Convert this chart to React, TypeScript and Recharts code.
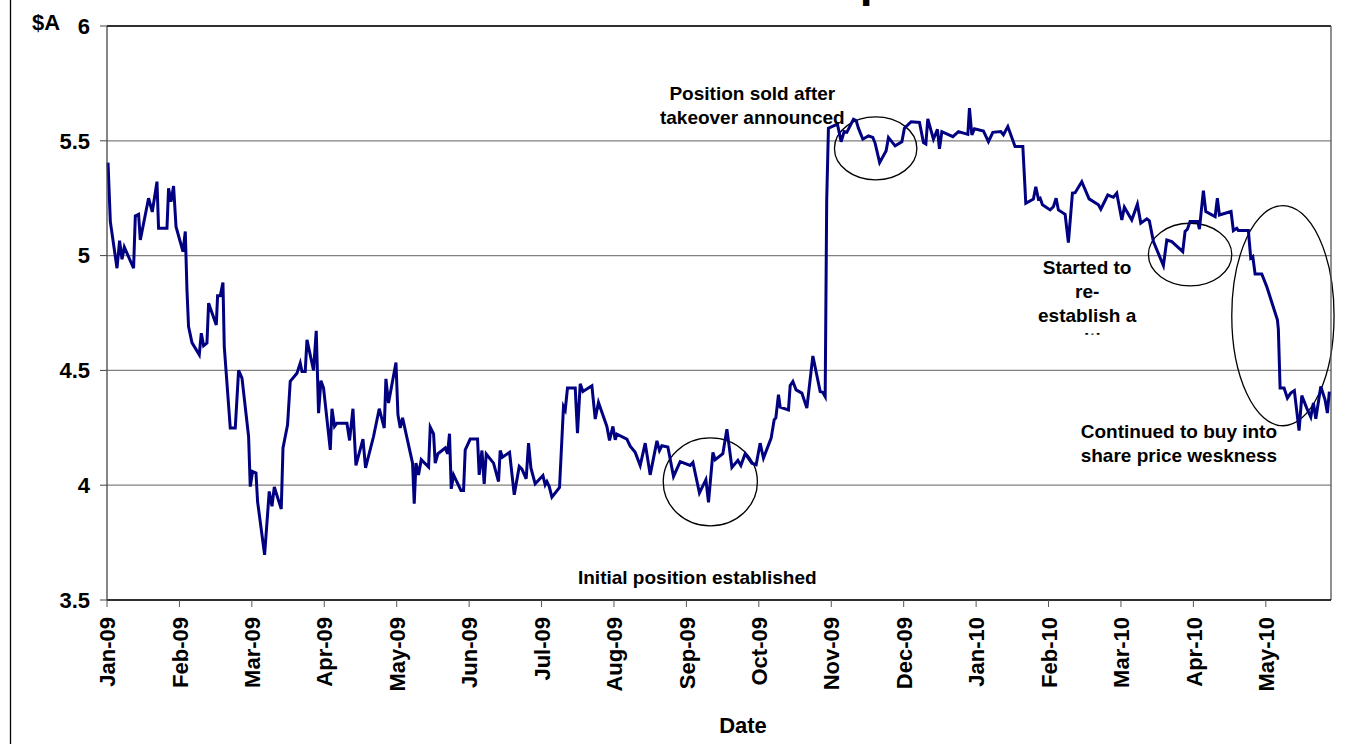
import {
  LineChart,
  Line,
  XAxis,
  YAxis,
  CartesianGrid,
  ReferenceLine,
  ReferenceArea,
  ReferenceDot
} from "recharts"

const FONT = "'Liberation Sans', Arial, Helvetica, sans-serif"

const monthLabels = [
  "Jan-09", "Feb-09", "Mar-09", "Apr-09", "May-09", "Jun-09", "Jul-09", "Aug-09",
  "Sep-09", "Oct-09", "Nov-09", "Dec-09", "Jan-10", "Feb-10", "Mar-10", "Apr-10", "May-10"
]
const monthTicks = monthLabels.map((_, i) => i)
const lastMonth = 16.9

const priceTicks = [3.5, 4, 4.5, 5, 5.5, 6]

// time in months since 1 Jan 09
const monthIdx = [
  0.014, 0.046, 0.138, 0.174, 0.207, 0.239, 0.367, 0.391, 0.436, 0.46, 0.574, 0.625, 0.69, 0.712,
  0.828, 0.85, 0.883, 0.919, 0.953, 1.049, 1.081, 1.104, 1.126, 1.173, 1.274, 1.302, 1.334, 1.38,
  1.403, 1.509, 1.527, 1.564, 1.601, 1.619, 1.702, 1.771, 1.817, 1.864, 1.955, 1.978, 2.01, 2.057,
  2.079, 2.176, 2.24, 2.278, 2.31, 2.406, 2.43, 2.493, 2.53, 2.623, 2.668, 2.692, 2.737, 2.761,
  2.852, 2.889, 2.921, 2.954, 2.99, 3.083, 3.106, 3.142, 3.175, 3.313, 3.349, 3.396, 3.437, 3.534,
  3.57, 3.68, 3.759, 3.828, 3.851, 3.887, 3.99, 4.017, 4.049, 4.081, 4.219, 4.242, 4.266, 4.301,
  4.339, 4.44, 4.463, 4.509, 4.532, 4.569, 4.67, 4.702, 4.729, 4.753, 4.785, 4.887, 4.923, 4.946,
  5.015, 5.116, 5.139, 5.177, 5.208, 5.236, 5.337, 5.406, 5.429, 5.461, 5.558, 5.623, 5.692, 5.729,
  5.788, 5.82, 5.853, 5.912, 6.019, 6.05, 6.074, 6.106, 6.143, 6.248, 6.303, 6.327, 6.358, 6.465,
  6.496, 6.534, 6.571, 6.695, 6.741, 6.786, 6.902, 6.938, 6.985, 7.017, 7.04, 7.178, 7.224, 7.293,
  7.362, 7.431, 7.5, 7.593, 7.628, 7.661, 7.744, 7.822, 7.914, 8.052, 8.09, 8.18, 8.269, 8.305,
  8.366, 8.397, 8.503, 8.559, 8.628, 8.711, 8.752, 8.811, 8.904, 8.963, 9.018, 9.064, 9.17, 9.212,
  9.235, 9.271, 9.295, 9.409, 9.433, 9.47, 9.515, 9.594, 9.663, 9.746, 9.847, 9.884, 9.916, 9.937,
  9.961, 10.085, 10.136, 10.178, 10.215, 10.306, 10.344, 10.375, 10.436, 10.513, 10.574, 10.606,
  10.668, 10.758, 10.79, 10.882, 10.975, 11.01, 11.103, 11.218, 11.273, 11.306, 11.333, 11.411,
  11.466, 11.494, 11.527, 11.679, 11.756, 11.886, 11.908, 11.941, 11.977, 12.101, 12.17, 12.231,
  12.341, 12.377, 12.438, 12.538, 12.645, 12.686, 12.791, 12.824, 12.86, 12.884, 12.916, 13.022,
  13.067, 13.105, 13.136, 13.229, 13.274, 13.33, 13.367, 13.459, 13.56, 13.689, 13.722, 13.818,
  13.896, 13.942, 14.012, 14.047, 14.149, 14.227, 14.274, 14.357, 14.392, 14.448, 14.586, 14.633,
  14.702, 14.853, 14.885, 14.917, 14.954, 15.061, 15.083, 15.138, 15.171, 15.3, 15.331, 15.359,
  15.52, 15.552, 15.599, 15.621, 15.759, 15.792, 15.82, 15.852, 15.944, 16.013, 16.16, 16.173,
  16.197, 16.252, 16.298, 16.344, 16.394, 16.459, 16.497, 16.565, 16.621, 16.657, 16.69, 16.759,
  16.818, 16.85, 16.877
]

// share price, $A
const sharePrice = [
  5.405, 5.148, 4.945, 5.065, 4.984, 5.037, 4.945, 5.173, 5.18, 5.068, 5.25, 5.19, 5.322, 5.119,
  5.119, 5.293, 5.235, 5.303, 5.126, 5.017, 5.105, 4.851, 4.691, 4.621, 4.568, 4.662, 4.607, 4.619,
  4.793, 4.698, 4.825, 4.825, 4.883, 4.604, 4.249, 4.249, 4.5, 4.466, 4.212, 3.994, 4.06, 4.053,
  3.929, 3.697, 3.973, 3.908, 3.992, 3.896, 4.162, 4.263, 4.452, 4.488, 4.532, 4.495, 4.495, 4.633,
  4.5, 4.672, 4.314, 4.455, 4.423, 4.154, 4.333, 4.256, 4.27, 4.27, 4.195, 4.333, 4.086, 4.201,
  4.075, 4.212, 4.333, 4.249, 4.463, 4.358, 4.534, 4.307, 4.249, 4.293, 4.096, 3.919, 4.096, 4.045,
  4.111, 4.079, 4.253, 4.224, 4.096, 4.137, 4.162, 4.137, 4.224, 3.984, 4.045, 3.977, 3.977, 4.154,
  4.201, 4.201, 4.045, 4.151, 4.006, 4.136, 4.096, 4.016, 4.151, 4.122, 4.143, 3.958, 4.082, 4.07,
  4.028, 4.183, 4.075, 4.006, 4.042, 4.002, 4.016, 3.994, 3.948, 3.99, 4.343, 4.328, 4.423, 4.423,
  4.227, 4.442, 4.408, 4.433, 4.288, 4.36, 4.256, 4.195, 4.256, 4.198, 4.222, 4.201, 4.17, 4.143,
  4.086, 4.183, 4.045, 4.193, 4.151, 4.172, 4.166, 4.038, 4.103, 4.086, 4.099, 3.966, 4.024, 3.925,
  4.143, 4.111, 4.137, 4.244, 4.077, 4.108, 4.086, 4.137, 4.096, 4.089, 4.183, 4.118, 4.205, 4.285,
  4.293, 4.394, 4.34, 4.328, 4.434, 4.452, 4.415, 4.401, 4.336, 4.563, 4.408, 4.404, 4.386, 5.24,
  5.555, 5.573, 5.496, 5.54, 5.537, 5.594, 5.588, 5.555, 5.507, 5.521, 5.515, 5.489,
  5.405, 5.457, 5.514, 5.478, 5.496, 5.555, 5.583, 5.58, 5.492, 5.486, 5.595, 5.507,
  5.55, 5.465, 5.54, 5.518, 5.54, 5.528, 5.642, 5.526, 5.552, 5.543, 5.496, 5.537,
  5.54, 5.526, 5.562, 5.475, 5.475, 5.228, 5.246, 5.3, 5.246, 5.25, 5.221, 5.199,
  5.213, 5.25, 5.199, 5.18, 5.057, 5.272, 5.274, 5.322, 5.247, 5.221, 5.202, 5.264,
  5.254, 5.272, 5.155, 5.211, 5.155, 5.224, 5.141, 5.16, 5.151, 5.061, 4.957, 5.068,
  5.061, 5.017, 5.105, 5.115, 5.148, 5.148, 5.115, 5.283, 5.192, 5.17, 5.25, 5.177,
  5.192, 5.109, 5.119, 5.109, 5.109, 4.989, 4.996, 4.92, 4.92, 4.865, 4.72, 4.68,
  4.423, 4.423, 4.379, 4.401, 4.412, 4.238, 4.39, 4.336, 4.297, 4.358, 4.289, 4.43,
  4.372, 4.314, 4.408
]

// rings drawn round the trades (month span, price span)
const ringFrom = [7.68, 10.044, 14.379, 15.53]
const ringTo = [8.98, 11.182, 15.53, 16.942]
const ringLow = [3.823, 5.33, 4.868, 4.259]
const ringHigh = [4.206, 5.604, 5.141, 5.218]

// text notes, centred on (month, price)
const noteMonth = [8.91, 13.533, 14.8, 8.15]
const notePrice = [5.656, 4.794, 4.183, 3.597]
const noteLines = [
  ["Position sold after", "takeover announced"],
  ["Started to", "re-", "establish a", "position"],
  ["Continued to buy into", "share price weskness"],
  ["Initial position established"]
]
const noteShown = [2, 3.33, 2, 1] // lines visible in the text box

const rows = monthIdx.map((t, i) => ({ t, price: sharePrice[i] }))

function PriceTick({ x, y, payload }: any) {
  return (
    <text x={x} y={y} dy="0.35em" textAnchor="end" fontFamily={FONT} fontWeight="bold" fontSize={22} fill="#000">
      {payload.value}
    </text>
  )
}

function MonthTick({ x, y, payload }: any) {
  return (
    <text
      x={x}
      y={y}
      dy="0.37em"
      textAnchor="end"
      transform={`rotate(-90, ${x}, ${y})`}
      fontFamily={FONT}
      fontWeight="bold"
      fontSize={22}
      fill="#000"
    >
      {monthLabels[payload.value]}
    </text>
  )
}

function Ring(p: any) {
  return (
    <ellipse
      cx={p.x + p.width / 2}
      cy={p.y + p.height / 2}
      rx={Math.abs(p.width / 2)}
      ry={Math.abs(p.height / 2)}
      fill="none"
      stroke="#000"
      strokeWidth={1.3}
    />
  )
}

function makeNote(i: number) {
  return (p: any) => {
    const lines = noteLines[i]
    const top = p.cy - lines.length * 12
    const clipId = `note-clip-${i}`
    return (
      <g>
        <defs>
          <clipPath id={clipId}>
            <rect x={p.cx - 200} y={top} width={400} height={noteShown[i] * 24} />
          </clipPath>
        </defs>
        <g clipPath={`url(#${clipId})`}>
          {lines.map((s, k) => (
            <text
              key={k}
              x={p.cx}
              y={top + 12 + k * 24}
              dy="0.35em"
              textAnchor="middle"
              fontFamily={FONT}
              fontWeight="bold"
              fontSize={19}
              fill="#000"
            >
              {s}
            </text>
          ))}
        </g>
      </g>
    )
  }
}

export default function App() {
  return (
    <div style={{ position: "absolute", left: 0, top: 0, width: 1356, height: 744, background: "#fff" }}>
      <LineChart
        width={1356}
        height={744}
        data={rows}
        margin={{ top: 26, right: 25, left: 7, bottom: 0 }}
      >
        <CartesianGrid vertical={false} stroke="#808080" strokeWidth={1.2} />
        <XAxis
          dataKey="t"
          type="number"
          domain={[0, lastMonth]}
          ticks={monthTicks}
          interval={0}
          height={144}
          tickSize={7}
          tickMargin={10}
          tick={<MonthTick />}
          axisLine={{ stroke: "#000", strokeWidth: 1.3 }}
          tickLine={{ stroke: "#555" }}
          label={{
            content: ({ viewBox }: any) => (
              <text
                x={(viewBox?.x ?? 107) + (viewBox?.width ?? 1224) / 2 + 24}
                y={(viewBox?.y ?? 600) + 133}
                textAnchor="middle"
                fontFamily={FONT}
                fontWeight="bold"
                fontSize={22}
                fill="#000"
              >
                Date
              </text>
            )
          }}
        />
        <YAxis
          type="number"
          domain={[3.5, 6]}
          ticks={priceTicks}
          interval={0}
          width={100}
          tickSize={7}
          tickMargin={10}
          tick={<PriceTick />}
          axisLine={{ stroke: "#444", strokeWidth: 1.3 }}
          tickLine={{ stroke: "#444" }}
          label={{
            content: ({ viewBox }: any) => (
              <text
                x={(viewBox?.x ?? 7) + 39}
                y={(viewBox?.y ?? 26) + 4}
                textAnchor="middle"
                fontFamily={FONT}
                fontWeight="bold"
                fontSize={22}
                fill="#000"
              >
                $A
              </text>
            )
          }}
        />
        <ReferenceLine y={6} stroke="#000" strokeWidth={1.3} />
        <ReferenceLine x={lastMonth} stroke="#555" strokeWidth={1.3} />
        <Line
          dataKey="price"
          type="linear"
          stroke="#000080"
          strokeWidth={3}
          dot={false}
          isAnimationActive={false}
        />
        {ringFrom.map((x1, i) => (
          <ReferenceArea
            key={`ring-${i}`}
            x1={x1}
            x2={ringTo[i]}
            y1={ringLow[i]}
            y2={ringHigh[i]}
            ifOverflow="visible"
            shape={Ring}
          />
        ))}
        {noteMonth.map((t, i) => (
          <ReferenceDot
            key={`note-${i}`}
            x={t}
            y={notePrice[i]}
            ifOverflow="visible"
            shape={makeNote(i)}
          />
        ))}
      </LineChart>
      <svg
        width={1356}
        height={744}
        style={{ position: "absolute", left: 0, top: 0, pointerEvents: "none" }}
      >
        <line x1={10.5} y1={0} x2={10.5} y2={744} stroke="#000" strokeWidth={1.3} />
        <text x={719} y={-4} fontFamily={FONT} fontWeight="bold" fontSize={46} fill="#000">
          Share price
        </text>
      </svg>
    </div>
  )
}
